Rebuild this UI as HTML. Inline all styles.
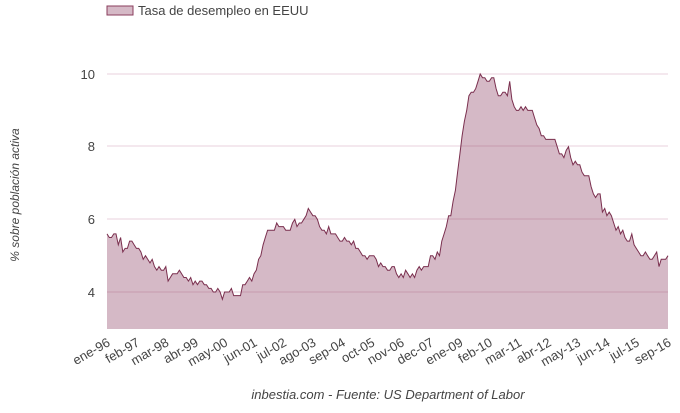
<!DOCTYPE html>
<html><head><meta charset="utf-8"><style>
body{margin:0;background:#fff;width:680px;height:408px;overflow:hidden;font-family:"Liberation Sans",sans-serif}
</style></head><body>
<svg id="s" width="680" height="408" xmlns="http://www.w3.org/2000/svg" font-family="Liberation Sans, sans-serif">
<rect x="107" y="6" width="26" height="9" fill="#d5b9c6" stroke="#8a3d5c" stroke-width="1"/>
<text x="138" y="15" font-size="13" fill="#444">Tasa de desempleo en EEUU</text>
<g font-size="13" fill="#444" text-anchor="end">
<text x="95" y="79">10</text><text x="95" y="151">8</text><text x="95" y="224">6</text><text x="95" y="297">4</text>
</g>
<text transform="translate(19,195) rotate(-90)" font-size="12" font-style="italic" fill="#444" text-anchor="middle">% sobre población activa</text>
<text x="388" y="399" font-size="13" font-style="italic" fill="#444" text-anchor="middle">inbestia.com - Fuente: US Department of Labor</text>
<g id="g"></g>
</svg>
<script>
var d=[5.6,5.5,5.5,5.6,5.6,5.3,5.5,5.1,5.2,5.2,5.4,5.4,
5.3,5.2,5.2,5.1,4.9,5.0,4.9,4.8,4.9,4.7,4.6,4.7,
4.6,4.6,4.7,4.3,4.4,4.5,4.5,4.5,4.6,4.5,4.4,4.4,
4.3,4.4,4.2,4.3,4.2,4.3,4.3,4.2,4.2,4.1,4.1,4.0,
4.0,4.1,4.0,3.8,4.0,4.0,4.0,4.1,3.9,3.9,3.9,3.9,
4.2,4.2,4.3,4.4,4.3,4.5,4.6,4.9,5.0,5.3,5.5,5.7,
5.7,5.7,5.7,5.9,5.8,5.8,5.8,5.7,5.7,5.7,5.9,6.0,
5.8,5.9,5.9,6.0,6.1,6.3,6.2,6.1,6.1,6.0,5.8,5.7,
5.7,5.6,5.8,5.6,5.6,5.6,5.5,5.4,5.4,5.5,5.4,5.4,
5.3,5.4,5.2,5.2,5.1,5.0,5.0,4.9,5.0,5.0,5.0,4.9,
4.7,4.8,4.7,4.7,4.6,4.6,4.7,4.7,4.5,4.4,4.5,4.4,
4.6,4.5,4.4,4.5,4.4,4.6,4.7,4.6,4.7,4.7,4.7,5.0,
5.0,4.9,5.1,5.0,5.4,5.6,5.8,6.1,6.1,6.5,6.8,7.3,
7.8,8.3,8.7,9.0,9.4,9.5,9.5,9.6,9.8,10.0,9.9,9.9,
9.8,9.8,9.9,9.9,9.6,9.4,9.4,9.5,9.5,9.4,9.8,9.3,
9.1,9.0,9.0,9.1,9.0,9.1,9.0,9.0,9.0,8.8,8.6,8.5,
8.3,8.3,8.2,8.2,8.2,8.2,8.2,8.0,7.8,7.8,7.7,7.9,
8.0,7.7,7.5,7.6,7.5,7.5,7.3,7.2,7.2,7.2,6.9,6.7,
6.6,6.7,6.7,6.2,6.3,6.1,6.2,6.1,5.9,5.7,5.8,5.6,
5.7,5.5,5.4,5.4,5.6,5.3,5.2,5.1,5.0,5.0,5.1,5.0,
4.9,4.9,5.0,5.1,4.7,4.9,4.9,4.9,5.0];
var x0=107,x1=668,n=d.length,dx=(x1-x0)/(n-1),yb=329;
function Y(v){return 292-(v-4)*36.33;}
var p="",q="M"+x0+","+yb;
for(var i=0;i<n;i++){var x=(x0+i*dx).toFixed(1),y=Y(d[i]).toFixed(1);p+=(i?"L":"M")+x+","+y;q+="L"+x+","+y;}
q+="L"+x1+","+yb+"Z";
var h='<path d="'+q+'" fill="#d5b9c6"/>';
[74,146,219,292].forEach(function(y){h+='<line x1="107" x2="668" y1="'+y+'" y2="'+y+'" stroke="rgba(150,50,95,0.22)" stroke-width="1"/>';});
h+='<path d="'+p+'" fill="none" stroke="#7a2f4e" stroke-width="1"/>';
var m=["ene","feb","mar","abr","may","jun","jul","ago","sep","oct","nov","dec"];
for(var i=0;i<n-13;i+=13){var mo=i%12,yr=(96+Math.floor(i/12))%100;var lab=m[mo]+"-"+(yr<10?"0":"")+yr;
var x=x0+i*dx+4;h+='<text transform="translate('+x.toFixed(1)+',345) rotate(-30)" text-anchor="end" font-size="13" fill="#444">'+lab+'</text>';}
var x=x1+4;h+='<text transform="translate('+x+',345) rotate(-30)" text-anchor="end" font-size="13" fill="#444">sep-16</text>';
document.getElementById("g").innerHTML=h;
</script>
</body></html>
